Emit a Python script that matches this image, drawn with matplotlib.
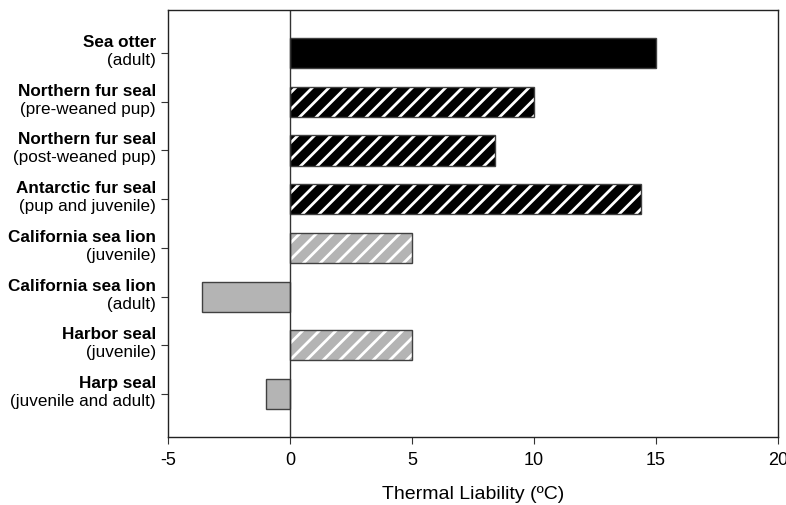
import matplotlib.pyplot as plt
import matplotlib.transforms as mtransforms

plt.rcParams['font.family'] = ['Liberation Sans', 'DejaVu Sans']
plt.rcParams['hatch.linewidth'] = 2.0
plt.rcParams['axes.unicode_minus'] = False

species = ['Sea otter', 'Northern fur seal', 'Northern fur seal', 'Antarctic fur seal',
           'California sea lion', 'California sea lion', 'Harbor seal', 'Harp seal']
stages = ['(adult)', '(pre-weaned pup)', '(post-weaned pup)', '(pup and juvenile)',
          '(juvenile)', '(adult)', '(juvenile)', '(juvenile and adult)']
liability = [15, 10, 8.4, 14.4, 5, -3.6, 5, -1]

# fill colour and hatch per bar
faces = ['black', 'black', 'black', 'black', '#b4b4b4', '#b4b4b4', '#b4b4b4', '#b4b4b4']
hatches = ['', '//', '//', '//', '//', '', '//', '']

fig = plt.figure(figsize=(7.86, 5.05), dpi=100)
ax = fig.add_axes([0.2137, 0.1347, 0.9898 - 0.2137, 0.980 - 0.1347])

ypos = list(range(len(species)))
for y, v, fc, h in zip(ypos, liability, faces, hatches):
    ax.barh(y, v, height=0.62, color=fc, edgecolor='white', hatch=h, linewidth=0)
ax.barh(ypos, liability, height=0.62, fill=False, edgecolor='#404040', linewidth=1)

ax.axvline(0, color='#333333', linewidth=1)
ax.set_xlim(-5, 20)
ax.set_ylim(7.88, -0.88)
ax.set_xticks([-5, 0, 5, 10, 15, 20])
ax.set_yticks(ypos)
ax.set_yticklabels([])
ax.tick_params(axis='x', labelsize=13, length=5, pad=6, color='#333333')
ax.tick_params(axis='y', length=5, color='#333333')
for s in ax.spines.values():
    s.set_color('#222222')
    s.set_linewidth(1)
ax.set_xlabel('Thermal Liability (ºC)', fontsize=14, labelpad=12)

trans = mtransforms.blended_transform_factory(ax.transAxes, ax.transData)
for y, name, stage in zip(ypos, species, stages):
    ax.annotate(name, xy=(0, y), xycoords=trans, xytext=(-8.6, 4.3), textcoords='offset points',
                ha='right', va='baseline', fontsize=12.3, fontweight='bold')
    ax.annotate(stage, xy=(0, y), xycoords=trans, xytext=(-8.6, -8.6), textcoords='offset points',
                ha='right', va='baseline', fontsize=12.3)

fig.savefig('out.png', dpi=100)
